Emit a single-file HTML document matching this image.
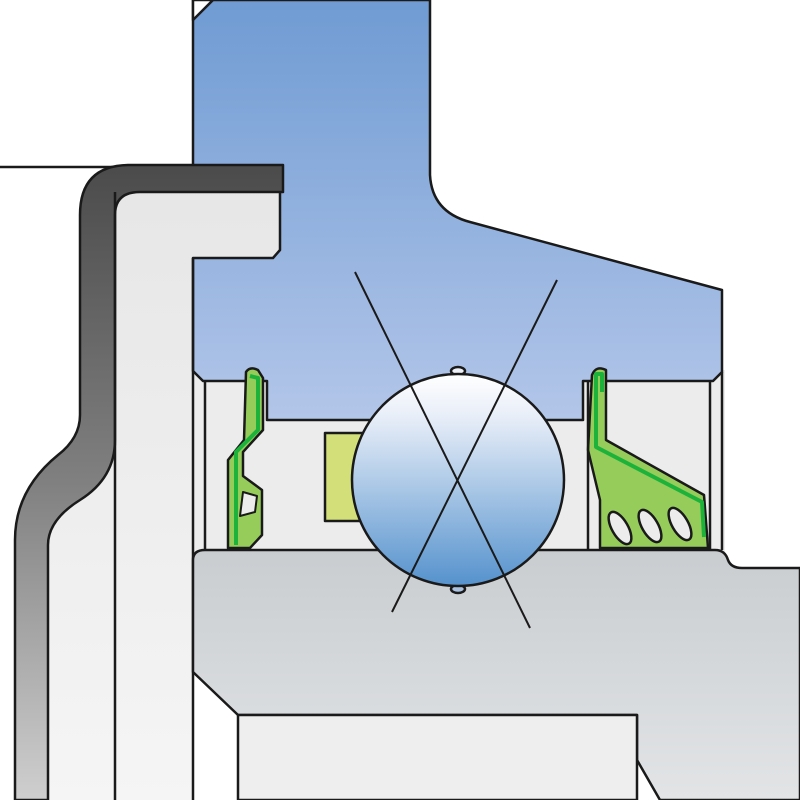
<!DOCTYPE html>
<html><head><style>html,body{margin:0;padding:0;background:#fff}svg{display:block}</style></head>
<body>
<svg width="800" height="800" viewBox="0 0 800 800" xmlns="http://www.w3.org/2000/svg">
<defs>
<linearGradient id="blue" x1="0" y1="0" x2="0" y2="1"><stop offset="0" stop-color="#6f9bd3"/><stop offset="1" stop-color="#b3c6e9"/></linearGradient>
<linearGradient id="ball" x1="0" y1="0" x2="0" y2="1"><stop offset="0" stop-color="#ffffff"/><stop offset="0.2" stop-color="#e8eef8"/><stop offset="1" stop-color="#5592cd"/></linearGradient>
<linearGradient id="shield" x1="0" y1="0" x2="0" y2="1"><stop offset="0" stop-color="#4b4b4b"/><stop offset="0.5" stop-color="#808080"/><stop offset="1" stop-color="#cfcfcf"/></linearGradient>
<linearGradient id="ring" x1="0" y1="0" x2="0" y2="1"><stop offset="0" stop-color="#c9cdd0"/><stop offset="1" stop-color="#e2e4e6"/></linearGradient>
<linearGradient id="light" x1="0" y1="0" x2="0" y2="1"><stop offset="0" stop-color="#e6e6e6"/><stop offset="1" stop-color="#f5f5f5"/></linearGradient>
</defs>
<g stroke="#1a1a1a" stroke-width="2.5" stroke-linejoin="round">
<path d="M115,192 L280,192 L280,250 L273,258 L200,258 L193,265 L193,800 L0,800 L0,167 L115,167Z" fill="url(#light)" stroke="none"/>
<path d="M0,167 L130,167 Q82,167 82,215 L82,415 Q82,440 60,460 Q16,495 16,540 L16,800 L0,800Z" fill="#fff" stroke="none"/>
<rect x="193" y="370" width="532" height="185" fill="#ececec" stroke="none"/>
<path d="M193,0 L430,0 L430,175 Q432,212 470,222 L722,290 L722,372 L713,381 L583,381 L583,420 L267,420 L267,381 L203,381 L193,371 L193,258 L273,258 L280,250 L280,167 L193,167Z" fill="url(#blue)"/>
<path d="M193,20 L213,0 L193,0Z" fill="#fff"/>
<line x1="0" y1="167" x2="193" y2="167"/>
<path d="M283,165 L130,165 Q80,165 80,215 L80,415 Q80,438 58,455 Q15,490 15,540 L15,800 L48,800 L48,545 Q48,520 80,500 Q115,478 115,440 L115,215 Q115,192 140,192 L283,192Z" fill="url(#shield)"/>
<line x1="115" y1="192" x2="115" y2="800"/>
<line x1="193" y1="258" x2="193" y2="800"/>
<line x1="205" y1="381" x2="205" y2="550"/>
<line x1="710" y1="381" x2="710" y2="550"/>
<line x1="722" y1="372" x2="722" y2="550"/>
<path d="M193,560 Q193,550 205,550 L715,550 Q725,550 728,560 Q731,568 742,568 L800,568 L800,800 L660,800 L637,760 L637,715 L238,715 L193,672Z" fill="url(#ring)"/>
<path d="M238,715 L637,715 L637,800 L238,800Z" fill="#eeeeee"/>
<rect x="325" y="433" width="40" height="88" fill="#d3e07a"/>
<path d="M246,372 Q250,366 258,370 L263,378 L263,430 L243,452 L243,476 L262,490 L262,535 L250,548 L228,548 L228,460 L244,440 Z" fill="#96cc5a"/>
<path d="M250,376 L258,378 L258,430 L236,452 L236,545" fill="none" stroke="#1db33b" stroke-width="4"/>
<path d="M243,492 L257,496 L255,512 L240,516 Z" fill="#ececec" stroke-width="2"/>
<path d="M592,375 Q596,365 606,370 L606,440 L704,495 L708,548 L600,548 L600,500 L588,450Z" fill="#96cc5a"/>
<path d="M602,392 L602,374 L596,374 L596,447 L702,502 L704,537" fill="none" stroke="#1db33b" stroke-width="4"/>
<g fill="#ececec" stroke-width="2.5">
<ellipse cx="620" cy="528" rx="8" ry="18" transform="rotate(-30 620 528)"/>
<ellipse cx="650" cy="526" rx="8" ry="18" transform="rotate(-30 650 526)"/>
<ellipse cx="680" cy="524" rx="8" ry="18" transform="rotate(-30 680 524)"/>
</g>
<line x1="588" y1="381" x2="588" y2="550"/>
<ellipse cx="458" cy="371" rx="7" ry="4" fill="#eef2f8"/>
<ellipse cx="458" cy="589" rx="7" ry="4" fill="#aac2e0"/>
<circle cx="458" cy="480" r="106" fill="url(#ball)"/>
<line x1="355" y1="272" x2="530" y2="628" stroke-width="2"/>
<line x1="557" y1="280" x2="392" y2="612" stroke-width="2"/>
</g>
</svg>
</body></html>
